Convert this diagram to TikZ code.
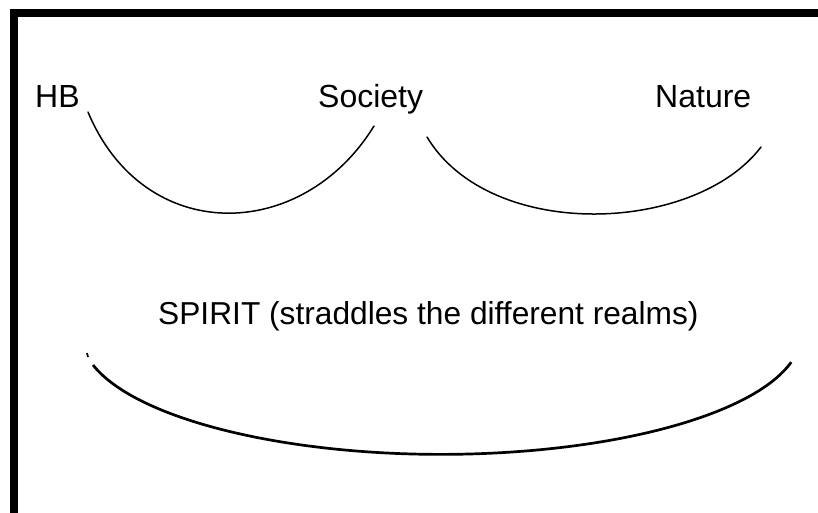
\documentclass[tikz,border=0pt]{standalone}
\usepackage{fontspec}
\setmainfont{Liberation Sans}
\usetikzlibrary{calc}
\tikzstyle{realm} = [anchor=base west, inner sep=0pt, font=\fontsize{32}{38}\selectfont]
\tikzstyle{cup} = [line width=1.5pt, line cap=round]
\tikzstyle{bigcup} = [line width=2.7pt]
\tikzstyle{frame} = [line width=7.5pt]

\begin{document}
\begin{tikzpicture}[x=1pt, y=-1pt]
  \useasboundingbox (0,0) rectangle (818,512);
  \clip (0,0) rectangle (818,512);
  \draw[frame] (13.75,12.75) rectangle (840,540);
  \node (hb)[realm] at (35,107) {HB};
  \node (society)[realm] at (318,107) {Society};
  \node (nature)[realm] at (655,107) {Nature};
  \node (spirit)[realm, font=\fontsize{31.7}{38}\selectfont] at (158,324) {SPIRIT (straddles the different realms)};
  % ends of the cups
  \coordinate (hbL) at (88,112);
  \coordinate (hbR) at (374,126);
  \coordinate (natL) at (427,137);
  \coordinate (natR) at (761,147);
  \coordinate (spL) at (93,365);
  \coordinate (tickA) at (87,353);
  \coordinate (tickB) at (88,357);
  \draw[cup] (hbL) .. controls (144,246) and (302,243) .. (hbR);
  \draw[cup] (natL) .. controls (490,242) and (695,234) .. (natR);
  \draw[bigcup] (spL) arc[start angle=165.2, end angle=13.4, x radius=360, y radius=120];
  \draw[line width=1.8pt] (tickA)--(tickB);
\end{tikzpicture}
\end{document}
